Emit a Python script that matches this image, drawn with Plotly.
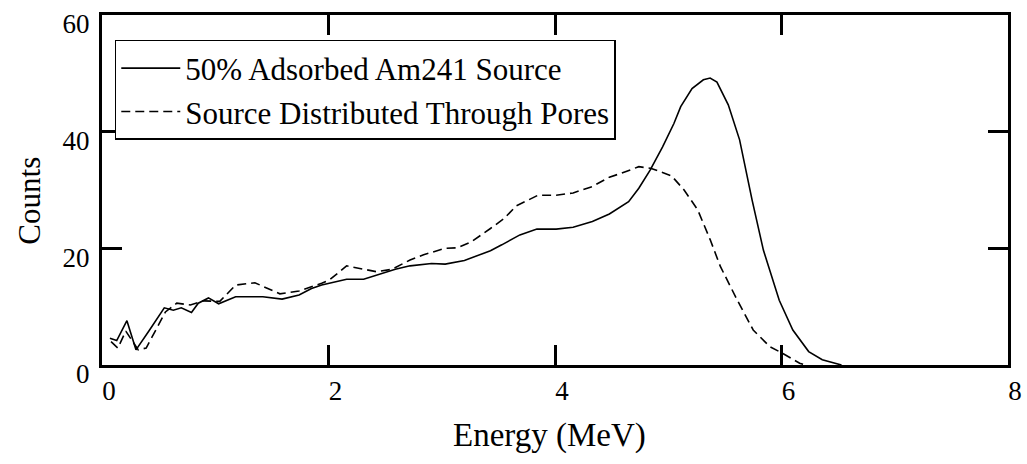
import plotly.graph_objects as go

# Solid: 50% Adsorbed Am241 Source
energy_a = [0.07, 0.13, 0.22, 0.30, 0.42, 0.55, 0.63, 0.70, 0.79, 0.85, 0.94, 1.03, 1.18, 1.42,
            1.59, 1.74, 1.85, 1.94, 2.16, 2.31, 2.59, 2.72, 2.91, 3.03, 3.20, 3.30, 3.43, 3.53,
            3.69, 3.84, 4.01, 4.16, 4.33, 4.48, 4.65, 4.74, 4.84, 4.95, 5.05, 5.11, 5.21, 5.31,
            5.37, 5.43, 5.53, 5.63, 5.74, 5.84, 5.98, 6.10, 6.24, 6.36, 6.53]
counts_a = [4.6, 4.2, 7.6, 2.6, 6.0, 9.8, 9.4, 9.8, 9.0, 10.6, 11.5, 10.5, 11.7, 11.7,
            11.3, 12.0, 13.1, 13.7, 14.7, 14.7, 16.4, 17.0, 17.4, 17.3, 17.9, 18.7, 19.6, 20.6,
            22.3, 23.3, 23.3, 23.6, 24.6, 25.9, 28.0, 30.3, 33.4, 37.4, 41.4, 44.3, 47.4, 48.9,
            49.2, 48.5, 44.6, 38.6, 28.3, 19.7, 11.1, 6.0, 2.3, 0.9, 0.0]

# Dashed: Source Distributed Through Pores
energy_b = [0.08, 0.14, 0.21, 0.32, 0.39, 0.56, 0.66, 0.78, 0.90, 1.04, 1.18, 1.35, 1.57, 1.74,
            1.94, 2.01, 2.16, 2.30, 2.42, 2.56, 2.72, 2.84, 3.03, 3.14, 3.26, 3.43, 3.55, 3.66,
            3.85, 4.01, 4.16, 4.33, 4.48, 4.59, 4.74, 4.85, 5.03, 5.14, 5.26, 5.37, 5.46, 5.61,
            5.75, 5.90, 6.01, 6.16, 6.21]
counts_b = [4.0, 2.9, 5.8, 2.6, 2.9, 9.1, 10.6, 10.3, 11.0, 10.9, 13.7, 14.1, 12.2, 12.7,
            14.0, 14.6, 17.0, 16.4, 16.0, 16.4, 18.0, 18.9, 20.0, 20.1, 21.1, 23.4, 25.1, 27.3,
            29.1, 29.1, 29.5, 30.6, 32.2, 32.9, 34.0, 33.7, 32.4, 30.0, 26.6, 21.5, 16.9, 11.1,
            6.0, 3.1, 2.0, 0.3, 0.0]

x_ticks = [0, 2, 4, 6, 8]
y_ticks = [0, 20, 40, 60]

FONT = "Liberation Serif"

fig = go.Figure()
fig.add_trace(go.Scatter(x=energy_a, y=counts_a, mode="lines",
                         name="50% Adsorbed Am241 Source",
                         line=dict(color="black", width=1.6)))
fig.add_trace(go.Scatter(x=energy_b, y=counts_b, mode="lines",
                         name="Source Distributed Through Pores",
                         line=dict(color="black", width=1.6, dash="9px,5px")))

fig.update_layout(
    width=1027, height=464,
    margin=dict(l=102, r=5, t=15, b=99),
    plot_bgcolor="white", paper_bgcolor="white",
    font=dict(family=FONT, color="black", size=27),
    showlegend=True,
    legend=dict(x=0.0141, y=0.9286, xanchor="left", yanchor="top",
                bgcolor="white", bordercolor="black", borderwidth=1.5,
                font=dict(family=FONT, size=31, color="black"),
                itemwidth=59, tracegroupgap=0),
)
fig.update_xaxes(range=[0, 8], tickvals=x_ticks, ticktext=[str(v) for v in x_ticks],
                 showgrid=False, zeroline=False, showline=True, linewidth=3, linecolor="black",
                 mirror="allticks", ticks="inside", ticklen=20, tickwidth=3, tickcolor="black",
                 ticklabelstandoff=0, ticklabelshift=7, ticklabeloverflow="allow",
                 tickfont=dict(family=FONT, size=27, color="black"))
fig.update_yaxes(range=[0, 60], tickvals=y_ticks, ticktext=[str(v) for v in y_ticks],
                 showgrid=False, zeroline=False, showline=True, linewidth=3, linecolor="black",
                 mirror="allticks", ticks="inside", ticklen=20, tickwidth=3, tickcolor="black",
                 ticklabelstandoff=4, ticklabelshift=9, ticklabeloverflow="allow",
                 tickfont=dict(family=FONT, size=27, color="black"))

fig.add_annotation(text="Counts", xref="paper", yref="paper", x=-0.0804, y=0.47,
                   textangle=-90, showarrow=False, xanchor="center", yanchor="middle",
                   font=dict(family=FONT, size=31, color="black"))
fig.add_annotation(text="Energy (MeV)", xref="paper", yref="paper", x=0.4935, y=-0.2,
                   showarrow=False, xanchor="center", yanchor="middle",
                   font=dict(family=FONT, size=33, color="black"))

fig.write_html("out.html")
